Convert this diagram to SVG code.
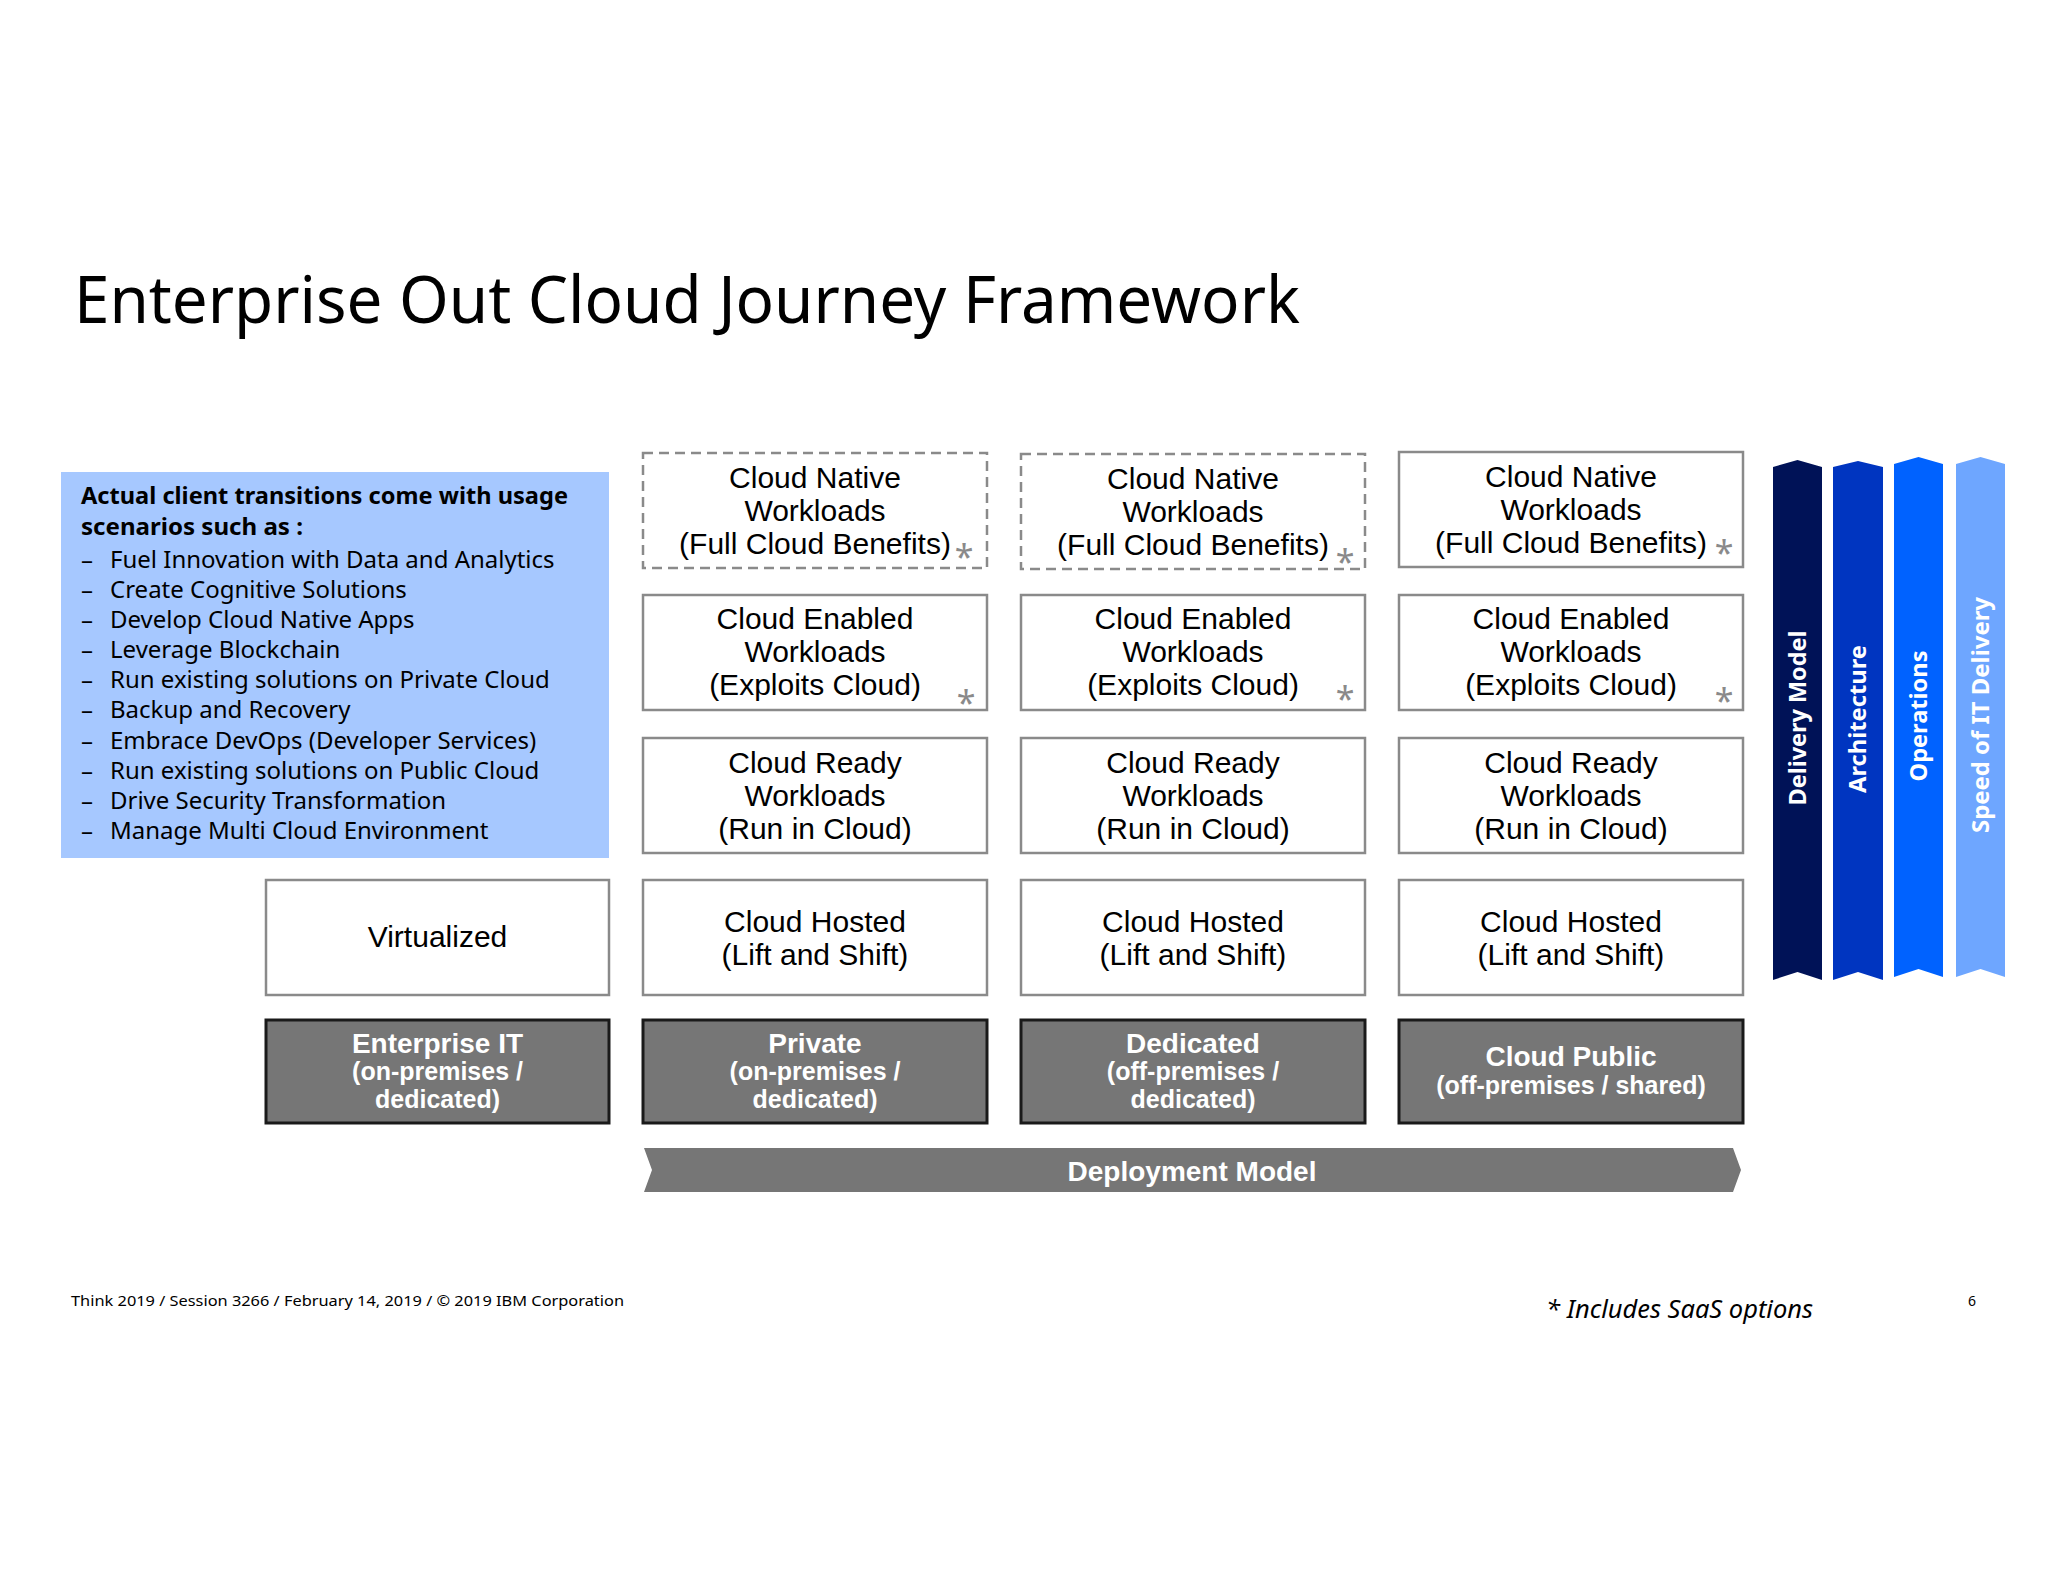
<svg xmlns="http://www.w3.org/2000/svg" width="2048" height="1582" viewBox="0 0 2048 1582">
<style>
.t{font-family:"Noto Sans","Liberation Sans",sans-serif;fill:#000}
.box{fill:#fff;stroke:#8a8a8a;stroke-width:2.5}
.dash{fill:#fff;stroke:#8a8a8a;stroke-width:2.5;stroke-dasharray:10 6}
.dark{fill:#767676;stroke:#1a1a1a;stroke-width:3}
.bt{font-family:"Liberation Sans",Arial,sans-serif;font-size:30px;fill:#000;text-anchor:middle}
.wt{font-family:"Liberation Sans",Arial,sans-serif;font-weight:bold;fill:#fff;text-anchor:middle}
.ast{font-family:"Noto Sans","Liberation Sans",sans-serif;font-size:34px;fill:#8a8a8a;text-anchor:middle}
.li{font-family:"Noto Sans","Liberation Sans",sans-serif;font-size:24px;fill:#000}
.vt{font-family:"Noto Sans","Liberation Sans",sans-serif;font-weight:bold;font-size:23px;fill:#fff;text-anchor:middle}
</style>
<rect width="2048" height="1582" fill="#fff"/>
<text class="t" x="74" y="323" font-size="66" textLength="1226" lengthAdjust="spacingAndGlyphs">Enterprise Out Cloud Journey Framework</text>

<g id="scenarios">
<rect x="61" y="472" width="548" height="386" fill="#a6c8ff"/>
<text class="t" x="81" y="504" font-size="24" font-weight="bold" textLength="487" lengthAdjust="spacingAndGlyphs">Actual client transitions come with usage</text>
<text class="t" x="81" y="535" font-size="24" font-weight="bold" textLength="222" lengthAdjust="spacingAndGlyphs">scenarios such as :</text>
<g class="li">
<text x="81" y="568">–</text><text x="110" y="568">Fuel Innovation with Data and Analytics</text>
<text x="81" y="598">–</text><text x="110" y="598">Create Cognitive Solutions</text>
<text x="81" y="628">–</text><text x="110" y="628">Develop Cloud Native Apps</text>
<text x="81" y="658">–</text><text x="110" y="658">Leverage Blockchain</text>
<text x="81" y="688">–</text><text x="110" y="688">Run existing solutions on Private Cloud</text>
<text x="81" y="718">–</text><text x="110" y="718">Backup and Recovery</text>
<text x="81" y="749">–</text><text x="110" y="749">Embrace DevOps (Developer Services)</text>
<text x="81" y="779">–</text><text x="110" y="779">Run existing solutions on Public Cloud</text>
<text x="81" y="809">–</text><text x="110" y="809">Drive Security Transformation</text>
<text x="81" y="839">–</text><text x="110" y="839">Manage Multi Cloud Environment</text>
</g>
</g>

<!-- Column 0 -->
<g id="virtualized">
<rect class="box" x="266" y="880" width="343" height="115"/>
<text class="bt" x="437.5" y="947">Virtualized</text>
</g>
<g id="enterprise-it">
<rect class="dark" x="266" y="1020" width="343" height="103"/>
<text class="wt" x="437.5" y="1053" font-size="28">Enterprise IT</text>
<text class="wt" x="437.5" y="1080" font-size="25">(on-premises /</text>
<text class="wt" x="437.5" y="1108" font-size="25">dedicated)</text>
</g>

<!-- Column 1 -->
<g id="c1-native">
<rect class="dash" x="643" y="453" width="344" height="115"/>
<text class="bt" x="815" y="488">Cloud Native</text>
<text class="bt" x="815" y="521">Workloads</text>
<text class="bt" x="815" y="554">(Full Cloud Benefits)</text>
<text class="ast" x="964" y="569">*</text>
</g>
<g id="c1-enabled">
<rect class="box" x="643" y="595" width="344" height="115"/>
<text class="bt" x="815" y="629">Cloud Enabled</text>
<text class="bt" x="815" y="662">Workloads</text>
<text class="bt" x="815" y="695">(Exploits Cloud)</text>
<text class="ast" x="966" y="715">*</text>
</g>
<g id="c1-ready">
<rect class="box" x="643" y="738" width="344" height="115"/>
<text class="bt" x="815" y="773">Cloud Ready</text>
<text class="bt" x="815" y="806">Workloads</text>
<text class="bt" x="815" y="839">(Run in Cloud)</text>
</g>
<g id="c1-hosted">
<rect class="box" x="643" y="880" width="344" height="115"/>
<text class="bt" x="815" y="932">Cloud Hosted</text>
<text class="bt" x="815" y="965">(Lift and Shift)</text>
</g>
<g id="private">
<rect class="dark" x="643" y="1020" width="344" height="103"/>
<text class="wt" x="815" y="1053" font-size="28">Private</text>
<text class="wt" x="815" y="1080" font-size="25">(on-premises /</text>
<text class="wt" x="815" y="1108" font-size="25">dedicated)</text>
</g>

<!-- Column 2 -->
<g id="c2-native">
<rect class="dash" x="1021" y="454" width="344" height="115"/>
<text class="bt" x="1193" y="489">Cloud Native</text>
<text class="bt" x="1193" y="522">Workloads</text>
<text class="bt" x="1193" y="555">(Full Cloud Benefits)</text>
<text class="ast" x="1345" y="574">*</text>
</g>
<g id="c2-enabled">
<rect class="box" x="1021" y="595" width="344" height="115"/>
<text class="bt" x="1193" y="629">Cloud Enabled</text>
<text class="bt" x="1193" y="662">Workloads</text>
<text class="bt" x="1193" y="695">(Exploits Cloud)</text>
<text class="ast" x="1345" y="711">*</text>
</g>
<g id="c2-ready">
<rect class="box" x="1021" y="738" width="344" height="115"/>
<text class="bt" x="1193" y="773">Cloud Ready</text>
<text class="bt" x="1193" y="806">Workloads</text>
<text class="bt" x="1193" y="839">(Run in Cloud)</text>
</g>
<g id="c2-hosted">
<rect class="box" x="1021" y="880" width="344" height="115"/>
<text class="bt" x="1193" y="932">Cloud Hosted</text>
<text class="bt" x="1193" y="965">(Lift and Shift)</text>
</g>
<g id="dedicated">
<rect class="dark" x="1021" y="1020" width="344" height="103"/>
<text class="wt" x="1193" y="1053" font-size="28">Dedicated</text>
<text class="wt" x="1193" y="1080" font-size="25">(off-premises /</text>
<text class="wt" x="1193" y="1108" font-size="25">dedicated)</text>
</g>

<!-- Column 3 -->
<g id="c3-native">
<rect class="box" x="1399" y="452" width="344" height="115"/>
<text class="bt" x="1571" y="487">Cloud Native</text>
<text class="bt" x="1571" y="520">Workloads</text>
<text class="bt" x="1571" y="553">(Full Cloud Benefits)</text>
<text class="ast" x="1724" y="565">*</text>
</g>
<g id="c3-enabled">
<rect class="box" x="1399" y="595" width="344" height="115"/>
<text class="bt" x="1571" y="629">Cloud Enabled</text>
<text class="bt" x="1571" y="662">Workloads</text>
<text class="bt" x="1571" y="695">(Exploits Cloud)</text>
<text class="ast" x="1724" y="713">*</text>
</g>
<g id="c3-ready">
<rect class="box" x="1399" y="738" width="344" height="115"/>
<text class="bt" x="1571" y="773">Cloud Ready</text>
<text class="bt" x="1571" y="806">Workloads</text>
<text class="bt" x="1571" y="839">(Run in Cloud)</text>
</g>
<g id="c3-hosted">
<rect class="box" x="1399" y="880" width="344" height="115"/>
<text class="bt" x="1571" y="932">Cloud Hosted</text>
<text class="bt" x="1571" y="965">(Lift and Shift)</text>
</g>
<g id="cloud-public">
<rect class="dark" x="1399" y="1020" width="344" height="103"/>
<text class="wt" x="1571" y="1066" font-size="28">Cloud Public</text>
<text class="wt" x="1571" y="1094" font-size="25">(off-premises / shared)</text>
</g>

<!-- Deployment model arrow -->
<g id="deployment-model">
<polygon points="644,1148 1733,1148 1741,1170 1733,1192 644,1192 652,1170" fill="#767676"/>
<text class="wt" x="1192" y="1181" font-size="28">Deployment Model</text>
</g>

<!-- Vertical arrows -->
<g id="delivery-model">
<polygon points="1773,467 1797.5,460 1822,467 1822,980 1797.5,972 1773,980" fill="#001257"/>
<text class="vt" transform="translate(1806,718) rotate(-90)" textLength="175" lengthAdjust="spacingAndGlyphs">Delivery Model</text>
</g>
<g id="architecture">
<polygon points="1833,467 1858,461 1883,467 1883,980 1858,972 1833,980" fill="#0035c0"/>
<text class="vt" transform="translate(1866,719) rotate(-90)" textLength="148" lengthAdjust="spacingAndGlyphs">Architecture</text>
</g>
<g id="operations">
<polygon points="1894,464 1918.5,457 1943,464 1943,977 1918.5,969 1894,977" fill="#0062ff"/>
<text class="vt" transform="translate(1927,716) rotate(-90)" textLength="131" lengthAdjust="spacingAndGlyphs">Operations</text>
</g>
<g id="speed-of-it-delivery">
<polygon points="1956,464 1980.5,457 2005,464 2005,977 1980.5,969 1956,977" fill="#6ea6ff"/>
<text class="vt" transform="translate(1989,715) rotate(-90)" textLength="236" lengthAdjust="spacingAndGlyphs">Speed of IT Delivery</text>
</g>

<g id="connectors"></g>

<text class="t" x="71" y="1306" font-size="14" textLength="553" lengthAdjust="spacingAndGlyphs">Think 2019 / Session 3266 / February 14, 2019 / © 2019 IBM Corporation</text>
<text class="t" x="1546" y="1318" font-size="25" font-style="italic" textLength="267" lengthAdjust="spacingAndGlyphs">* Includes SaaS options</text>
<text class="t" x="1968" y="1306" font-size="14">6</text>
</svg>
